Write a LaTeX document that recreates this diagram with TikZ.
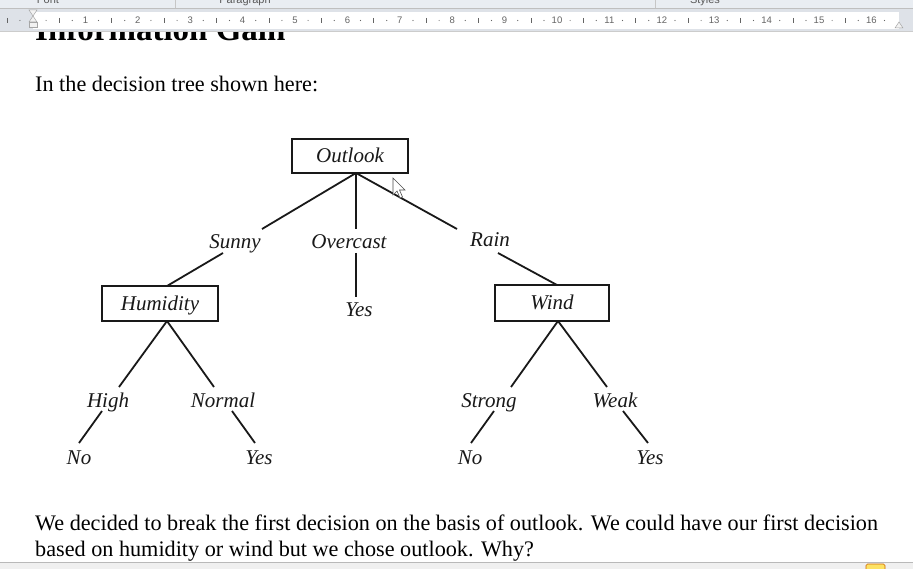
\documentclass[tikz,border=0pt]{standalone}
\usepackage{fontspec}
\setmainfont{Liberation Serif}
\setsansfont{Liberation Sans}
\definecolor{ink}{RGB}{25,25,25}
\definecolor{uibg}{RGB}{233,237,242}
\definecolor{rulbg}{RGB}{222,226,232}
\definecolor{rulink}{RGB}{100,100,100}
\begin{document}
\begin{tikzpicture}[x=1pt,y=-1pt,
  box/.style={draw=ink, line width=1.9pt, minimum width=116pt, minimum height=34pt, inner sep=0pt,
    font=\fontsize{21}{24}\selectfont\itshape, text=ink, text height=16pt, text depth=2pt},
  lab/.style={anchor=base, inner sep=0pt, font=\fontsize{21}{24}\selectfont\itshape, text=ink},
  edge/.style={draw=ink, line width=1.8pt},
  body/.style={anchor=base west, inner sep=0pt, font=\fontsize{22.2}{26}\selectfont, text=black},
  rnum/.style={font=\sffamily\fontsize{9.5}{10}\selectfont, text=rulink, inner sep=0pt},
  uilab/.style={anchor=base, font=\sffamily\fontsize{11}{12}\selectfont, text=gray!70!black, inner sep=0pt}
]
\useasboundingbox (0,0) rectangle (913,569);
\fill[white] (0,0) rectangle (913,569);

% clipped heading (its top hidden by the ruler)
\begin{scope}
\clip (0,31) rectangle (913,60);
\node[anchor=base west, inner sep=0pt, font=\fontsize{33}{36}\selectfont\bfseries] (title) at (35,41) {Information Gain};
\end{scope}

% ---- Word UI: ribbon bottom and ruler ----
\fill[uibg] (0,0) rectangle (913,8);
\node[uilab] (uifont) at (48,4) {Font};
\node[uilab] (uipara) at (245,4) {Paragraph};
\node[uilab] (uistyle) at (705,4) {Styles};
\draw[gray!45] (175,0) -- (175,8);
\draw[gray!45] (655,0) -- (655,8);
\draw[gray!50] (0,8.5) -- (913,8.5);
\fill[rulbg] (0,9) rectangle (913,31);
\fill[white] (33,12) rectangle (899,29);
\foreach \i in {1,...,16} {\node[rnum] (rn\i) at ({33+52.4*\i},20.5) {\i};}
\foreach \i in {-1,...,16} {
  \pgfmathsetmacro{\xa}{33+52.4*(\i+0.25)}
  \pgfmathsetmacro{\xb}{33+52.4*(\i+0.5)}
  \pgfmathsetmacro{\xc}{33+52.4*(\i+0.75)}
  \ifdim\xa pt<895pt \ifdim\xa pt>0pt \fill[rulink] (\xa,20.5) circle (0.6); \fi\fi
  \ifdim\xb pt<895pt \ifdim\xb pt>0pt \draw[rulink, line width=0.6pt] (\xb,18) -- (\xb,23); \fi\fi
  \ifdim\xc pt<895pt \ifdim\xc pt>0pt \fill[rulink] (\xc,20.5) circle (0.6); \fi\fi
}
\filldraw[draw=gray!70, fill=gray!10, line width=0.5pt] (29,10) -- (37,10) -- (33,16) -- cycle;
\filldraw[draw=gray!70, fill=gray!10, line width=0.5pt] (33,16) -- (37,22) -- (29,22) -- cycle;
\filldraw[draw=gray!70, fill=gray!10, line width=0.5pt] (29,22) rectangle (37,27);
\filldraw[draw=gray!70, fill=gray!10, line width=0.5pt] (899,22) -- (903,28) -- (895,28) -- cycle;
\draw[gray!40] (0,31) -- (913,31);

% ---- intro text ----
\node[body] (intro) at (35,92) {In the decision tree shown here:};

% ---- tree boxes ----
\node[box] (outlook) at (350,156) {Outlook};
\node[box, minimum height=35pt] (humidity) at (160,303.5) {Humidity};
\node[box, minimum width=114pt, minimum height=36pt] (wind) at (552,303) {Wind};

% ---- labels ----
\node[lab] (sunny) at (235,249) {Sunny};
\node[lab] (overcast) at (349,249) {Overcast};
\node[lab] (rain) at (490,247) {Rain};
\node[lab] (yes0) at (359,317) {Yes};
\node[lab] (high) at (108,407) {High};
\node[lab] (normal) at (223,407) {Normal};
\node[lab] (strong) at (489,407) {Strong};
\node[lab] (weak) at (615,407) {Weak};
\node[lab] (no1) at (79,464) {No};
\node[lab] (yes1) at (259,464) {Yes};
\node[lab] (no2) at (470,464) {No};
\node[lab] (yes2) at (650,464) {Yes};

% ---- connector end points ----
\coordinate (oa) at (356,173);
\coordinate (su1) at (262,229);
\coordinate (su2) at (223,253);
\coordinate (ha) at (167,286);
\coordinate (ov1) at (356,229);
\coordinate (ov2) at (356,253);
\coordinate (ov3) at (356,297);
\coordinate (ra1) at (457,229);
\coordinate (ra2) at (498,253);
\coordinate (wa) at (557,285);
\coordinate (hb) at (167,321);
\coordinate (hi1) at (119,387);
\coordinate (nm1) at (214,387);
\coordinate (hi2) at (102,411);
\coordinate (n1) at (79,443);
\coordinate (nm2) at (232,411);
\coordinate (y1) at (255,443);
\coordinate (wb) at (558,321);
\coordinate (st1) at (511,387);
\coordinate (wk1) at (607,387);
\coordinate (st2) at (494,411);
\coordinate (n2) at (471,443);
\coordinate (wk2) at (623,411);
\coordinate (y2) at (648,443);

\draw[edge] (oa) -- (su1);
\draw[edge] (oa) -- (ov1);
\draw[edge] (oa) -- (ra1);
\draw[edge] (su2) -- (ha);
\draw[edge] (ov2) -- (ov3);
\draw[edge] (ra2) -- (wa);
\draw[edge] (hb) -- (hi1);
\draw[edge] (hb) -- (nm1);
\draw[edge] (hi2) -- (n1);
\draw[edge] (nm2) -- (y1);
\draw[edge] (wb) -- (st1);
\draw[edge] (wb) -- (wk1);
\draw[edge] (st2) -- (n2);
\draw[edge] (wk2) -- (y2);

% ---- mouse cursor ----
\filldraw[draw=gray!60!black, fill=white, line width=0.6pt]
  (393,178) -- (393,195) -- (397,191) -- (400,198) -- (402.5,197) -- (399.5,190) -- (405,190) -- cycle;

% ---- closing text ----
\node[body] (para1) at (35,530) {We decided to break the first decision on the basis of outlook. We could have our first decision};
\node[body] (para2) at (35,556) {based on humidity or wind but we chose outlook. Why?};

% ---- status bar ----
\fill[gray!12] (0,562) rectangle (913,569);
\draw[gray!55] (0,562) -- (913,562);
\filldraw[draw=orange!80!black, fill=yellow!70!orange!60, rounded corners=1.5pt, line width=0.6pt] (866,564) rectangle (885,572);
\end{tikzpicture}
\end{document}
